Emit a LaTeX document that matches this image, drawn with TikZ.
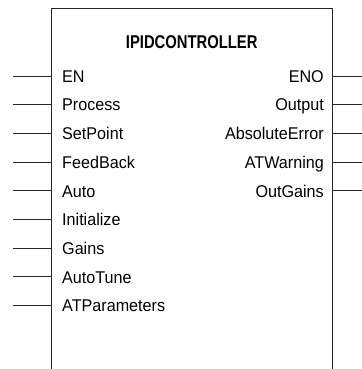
\documentclass[tikz,border=0pt]{standalone}
\usepackage{fontspec}
\setmainfont{Liberation Sans}[FakeStretch=0.95]
\newfontfamily\titlefont{Liberation Sans}[FakeStretch=0.8]
\begin{document}
\begin{tikzpicture}[x=1pt,y=-1pt,
  frame/.style={draw=black!85,line width=1.1pt},
  pin/.style={draw=black!85,line width=0.9pt},
  inlabel/.style={inner sep=0pt,anchor=base west,font=\fontsize{17}{20}\selectfont},
  outlabel/.style={inner sep=0pt,anchor=base east,font=\fontsize{17}{20}\selectfont},
  titlelabel/.style={inner sep=0pt,anchor=base,font=\titlefont\bfseries\fontsize{18.5}{22}\selectfont}]
\useasboundingbox (0,0) rectangle (361,369);
% box corners
\coordinate (bl) at (51.7,372);
\coordinate (tl) at (51.7,8.3);
\coordinate (tr) at (332.3,8.3);
\coordinate (br) at (332.3,372);
\draw[frame] (bl) -- (tl) -- (tr) -- (br);
\node[titlelabel] (title) at (191.7,48.3) {IPIDCONTROLLER};
% inputs
\foreach \lab [count=\i from 0] in {EN,Process,SetPoint,FeedBack,Auto,Initialize,Gains,AutoTune,ATParameters}{
  \pgfmathsetmacro{\yy}{76+28.7*\i}
  \coordinate (inA\i) at (13.3,\yy);
  \coordinate (inB\i) at (51.7,\yy);
  \draw[pin] (inA\i) -- (inB\i);
  \node[inlabel] (in\i) at (62,\yy+6.2) {\lab};
}
% outputs
\foreach \lab [count=\i from 0] in {ENO,Output,AbsoluteError,ATWarning,OutGains}{
  \pgfmathsetmacro{\yy}{76+28.7*\i}
  \coordinate (outA\i) at (332.3,\yy);
  \coordinate (outB\i) at (362,\yy);
  \draw[pin] (outA\i) -- (outB\i);
  \node[outlabel] (out\i) at (324,\yy+6.2) {\lab};
}
\end{tikzpicture}
\end{document}
